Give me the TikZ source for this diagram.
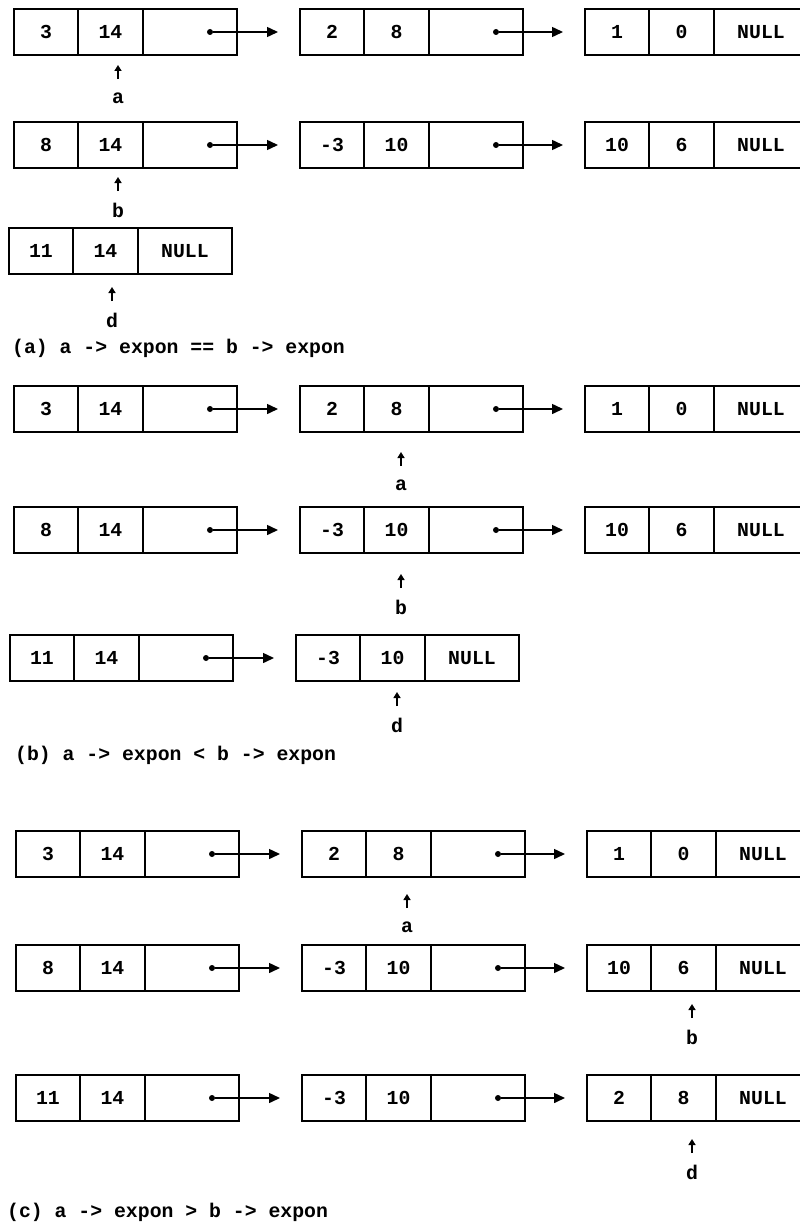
\documentclass[tikz,border=0pt]{standalone}
\usepackage{fontspec}
\setmainfont{Liberation Mono}
\usetikzlibrary{arrows.meta}
\usetikzlibrary{positioning}

\tikzset{
    cell/.style={draw, line width=1.6pt, outer sep=0pt, inner sep=0pt,
        minimum height=46pt, font=\bfseries\fontsize{19.8}{24}\selectfont},
    coefbox/.style={cell, minimum width=64pt, anchor=west},
    exponbox/.style={cell, minimum width=65pt},
    linkbox/.style={cell, minimum width=94pt},
    linkdot/.style={circle, fill, inner sep=0pt, minimum size=6pt},
    nextarrow/.style={-{Triangle[length=11pt,width=10pt]}, line width=1.5pt},
    ptrlabel/.style={inner sep=0pt, font=\bfseries\fontsize{19.8}{24}\selectfont},
    ptrarrow/.style={-{Triangle[length=6pt,width=7pt]}, line width=1.8pt},
    caption/.style={anchor=west, inner sep=0pt, font=\bfseries\fontsize{19.8}{24}\selectfont}
}

% one term of a polynomial: coef | expon | link
\newcommand{\polyterm}[5]{%
    \node[coefbox] (#1c) at (#2) {#3};
    \node[exponbox, right=0pt of #1c] (#1e) {#4};
    \node[linkbox, right=0pt of #1e] (#1l) {#5};
}
% link field of #1 pointing at term #2
\newcommand{\nextlink}[2]{%
    \node[linkdot] (#1d) at ([xshift=-27pt]#1l.east) {};
    \draw[nextarrow] (#1d) -- ([xshift=-22pt]#2c.west);
}
% pointer name under a term
\newcommand{\pointer}[3]{%
    \node[ptrlabel] (#1) at (#2) {#3};
    \draw[ptrarrow] ([yshift=19pt]#1.center) -- ([yshift=33pt]#1.center);
}

\begin{document}
\begin{tikzpicture}[x=1pt, y=-1pt]
    \useasboundingbox (0,0) rectangle (800,1223);

    % (a) equal exponents
    \polyterm{a11}{14,32}{3}{14}{}
    \polyterm{a12}{300,32}{2}{8}{}
    \polyterm{a13}{585,32}{1}{0}{NULL}
    \nextlink{a11}{a12}
    \nextlink{a12}{a13}

    \polyterm{a21}{14,145}{8}{14}{}
    \polyterm{a22}{300,145}{-3}{10}{}
    \polyterm{a23}{585,145}{10}{6}{NULL}
    \nextlink{a21}{a22}
    \nextlink{a22}{a23}

    \polyterm{a31}{9,251}{11}{14}{NULL}

    \pointer{aa}{118,98}{a}
    \pointer{ab}{118,210}{b}
    \pointer{ad}{112,320}{d}
    \node[caption] (capa) at (12,348) {(a) a -> expon == b -> expon};

    % (b) a smaller
    \polyterm{b11}{14,409}{3}{14}{}
    \polyterm{b12}{300,409}{2}{8}{}
    \polyterm{b13}{585,409}{1}{0}{NULL}
    \nextlink{b11}{b12}
    \nextlink{b12}{b13}

    \polyterm{b21}{14,530}{8}{14}{}
    \polyterm{b22}{300,530}{-3}{10}{}
    \polyterm{b23}{585,530}{10}{6}{NULL}
    \nextlink{b21}{b22}
    \nextlink{b22}{b23}

    \polyterm{b31}{10,658}{11}{14}{}
    \polyterm{b32}{296,658}{-3}{10}{NULL}
    \nextlink{b31}{b32}

    \pointer{ba}{401,485}{a}
    \pointer{bb}{401,607}{b}
    \pointer{bd}{397,725}{d}
    \node[caption] (capb) at (15,755) {(b) a -> expon < b -> expon};

    % (c) a larger
    \polyterm{c11}{16,854}{3}{14}{}
    \polyterm{c12}{302,854}{2}{8}{}
    \polyterm{c13}{587,854}{1}{0}{NULL}
    \nextlink{c11}{c12}
    \nextlink{c12}{c13}

    \polyterm{c21}{16,968}{8}{14}{}
    \polyterm{c22}{302,968}{-3}{10}{}
    \polyterm{c23}{587,968}{10}{6}{NULL}
    \nextlink{c21}{c22}
    \nextlink{c22}{c23}

    \polyterm{c31}{16,1098}{11}{14}{}
    \polyterm{c32}{302,1098}{-3}{10}{}
    \polyterm{c33}{587,1098}{2}{8}{NULL}
    \nextlink{c31}{c32}
    \nextlink{c32}{c33}

    \pointer{ca}{407,927}{a}
    \pointer{cb}{692,1037}{b}
    \pointer{cd}{692,1172}{d}
    \node[caption] (capc) at (7,1212) {(c) a -> expon > b -> expon};
\end{tikzpicture}
\end{document}
